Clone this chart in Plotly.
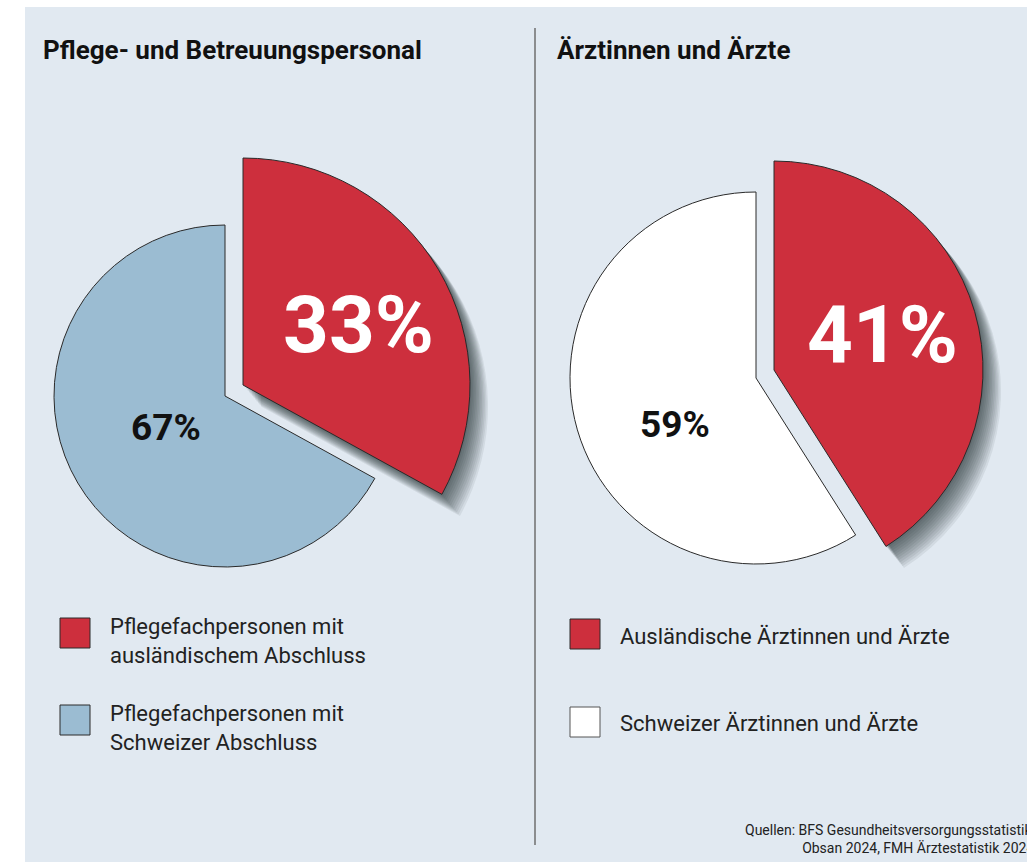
import plotly.graph_objects as go

# ---------------- data ----------------
left_title = "Pflege- und Betreuungspersonal"
left_labels = ["Pflegefachpersonen mit<br>ausländischem Abschluss",
               "Pflegefachpersonen mit<br>Schweizer Abschluss"]
left_values = [33, 67]

right_title = "Ärztinnen und Ärzte"
right_labels = ["Ausländische Ärztinnen und Ärzte",
                "Schweizer Ärztinnen und Ärzte"]
right_values = [41, 59]

source_text = "Quellen: BFS Gesundheitsversorgungsstatistik,<br>Obsan 2024, FMH Ärztestatistik 2024"

# ---------------- style ----------------
W, H = 1027, 862
BG = "#e1e9f1"
RED = "#cd2f3d"
BLUE = "#9bbcd2"
WHITE = "#ffffff"
EDGE = "#2a2a2a"
TRANSP = "rgba(0,0,0,0)"
FONT = "Roboto, 'Noto Sans', sans-serif"


def PX(x):
    return x / W


def PY(y):
    return 1 - y / H


def dom(cx, cy, r):
    return dict(x=[PX(cx - r), PX(cx + r)], y=[PY(cy + r), PY(cy - r)])


def pie(values, labels, colors, lines, cx, cy, r, lw=1):
    return go.Pie(values=values, labels=labels, sort=False, direction="clockwise",
                  rotation=0, textinfo="none", hoverinfo="skip", showlegend=False,
                  marker=dict(colors=colors, line=dict(color=lines, width=lw)),
                  domain=dom(cx, cy, r))


fig = go.Figure()

panels = [
    dict(values=left_values, labels=left_labels, other=BLUE,
         base=(225, 396, 171), main=(243, 385, 227)),
    dict(values=right_values, labels=right_labels, other=WHITE,
         base=(756, 378, 186), main=(774, 370, 209)),
]

for p in panels:
    bx, by, br = p["base"]
    mx, my, mr = p["main"]
    fig.add_trace(pie(p["values"], p["labels"], [TRANSP, p["other"]], [TRANSP, EDGE], bx, by, br))
    for k in range(2, 25, 2):
        fig.add_trace(pie(p["values"], p["labels"], ["rgba(20,25,30,0.07)", TRANSP],
                          [TRANSP, TRANSP], mx + k * 0.75, my + k * 0.9, mr, lw=0))
    fig.add_trace(pie(p["values"], p["labels"], [RED, TRANSP], [EDGE, TRANSP], mx, my, mr))

ann = []


def A(x, y, text, size, color="#111", bold=False, xanchor="left", align="left"):
    ann.append(dict(x=PX(x), y=PY(y), xref="paper", yref="paper", text=text,
                    showarrow=False, xanchor=xanchor, yanchor="middle", align=align,
                    font=dict(family=FONT, size=size, color=color,
                              weight=700 if bold else 400)))


# titles
A(41, 50, left_title, 26, color="#111", bold=True)
A(555, 50, right_title, 26, color="#111", bold=True)

# percentage labels
A(358, 325, f"{left_values[0]}%", 80, color="#ffffff", bold=True, xanchor="center")
A(166, 428, f"{left_values[1]}%", 37, color="#111", bold=True, xanchor="center")
A(882, 335, f"{right_values[0]}%", 80, color="#ffffff", bold=True, xanchor="center")
A(675, 424, f"{right_values[1]}%", 37, color="#111", bold=True, xanchor="center")

# legends
A(108, 641, left_labels[0], 22, color="#222")
A(108, 728, left_labels[1], 22, color="#222")
A(618, 636, right_labels[0], 22, color="#222")
A(618, 723, right_labels[1], 22, color="#222")

# source
A(1037, 839, source_text, 14, color="#222", xanchor="right", align="right")

shapes = [
    dict(type="rect", xref="paper", yref="paper", x0=0, x1=1, y0=PY(7), y1=1,
         fillcolor="white", line=dict(width=0), layer="above"),
    dict(type="rect", xref="paper", yref="paper", x0=0, x1=PX(25), y0=0, y1=1,
         fillcolor="white", line=dict(width=0), layer="above"),
    dict(type="line", xref="paper", yref="paper", x0=PX(535), x1=PX(535),
         y0=PY(845), y1=PY(28), line=dict(color="#6e6e6e", width=1.5)),
    # legend swatches
    dict(type="rect", xref="paper", yref="paper", x0=PX(60), x1=PX(90),
         y0=PY(648), y1=PY(618), fillcolor=RED, line=dict(color=EDGE, width=1)),
    dict(type="rect", xref="paper", yref="paper", x0=PX(60), x1=PX(90),
         y0=PY(735), y1=PY(705), fillcolor=BLUE, line=dict(color=EDGE, width=1)),
    dict(type="rect", xref="paper", yref="paper", x0=PX(570), x1=PX(600),
         y0=PY(649), y1=PY(619), fillcolor=RED, line=dict(color=EDGE, width=1)),
    dict(type="rect", xref="paper", yref="paper", x0=PX(570), x1=PX(600),
         y0=PY(737), y1=PY(707), fillcolor=WHITE, line=dict(color="#555", width=1)),
]

fig.update_layout(width=W, height=H, margin=dict(l=0, r=0, t=0, b=0),
                  paper_bgcolor=BG, plot_bgcolor=BG, showlegend=False,
                  annotations=ann, shapes=shapes)

fig.write_html("out.html", config={"displayModeBar": False},
               post_script="document.body.style.margin='0';"
                           "document.body.style.overflow='hidden';")
